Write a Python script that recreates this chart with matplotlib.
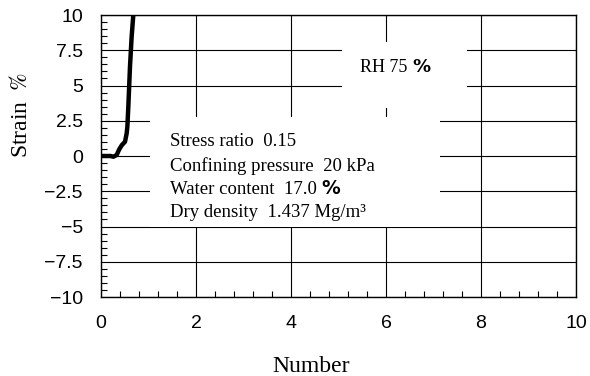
import numpy as np
import matplotlib.pyplot as plt
from matplotlib.patches import Rectangle
from matplotlib.ticker import MultipleLocator

number = [0, 0.1, 0.2, 0.26, 0.33, 0.38, 0.44, 0.505, 0.54, 0.555, 0.575, 0.61, 0.645, 0.68, 0.7]
strain = [0, 0, 0, -0.05, 0.07, 0.45, 0.78, 1.01, 1.6, 2.08, 3.5, 6.33, 8.46, 10.0, 11.0]

x_ticks = [0, 2, 4, 6, 8, 10]
y_ticks = [-10, -7.5, -5, -2.5, 0, 2.5, 5, 7.5, 10]
y_tick_labels = ['\u221210', '\u22127.5', '\u22125', '\u22122.5', '0', '2.5', '5', '7.5', '10']

conditions = [
    ('Stress ratio  0.15', ''),
    ('Confining pressure  20 kPa', ''),
    ('Water content  17.0 ', '%'),
    ('Dry density  1.437 Mg/m\u00b3', ''),
]

plt.rcParams['mathtext.fontset'] = 'stix'

fig = plt.figure(figsize=(5.9, 3.76), dpi=100)
ax = fig.add_axes([0.1712, 0.2101, 0.8051, 0.75])

ax.plot(number, strain, color='black', lw=3.2, zorder=3, solid_capstyle='butt')

ax.set_xlim(0, 10)
ax.set_ylim(-10, 10)
ax.set_xticks(x_ticks)
ax.set_yticks(y_ticks)
ax.set_yticklabels(y_tick_labels)
ax.xaxis.set_minor_locator(MultipleLocator(0.4))
ax.yaxis.set_minor_locator(MultipleLocator(0.5))
ax.tick_params(which='major', direction='in', length=0, pad=13,
               labelsize=14, labelfontfamily='Liberation Sans')
ax.tick_params(which='minor', direction='in', length=4, width=0.8)

ax.set_axisbelow(True)
ax.grid(True, which='major', color='black', lw=0.8)
for s in ax.spines.values():
    s.set_linewidth(1.0)

# white boxes hiding the grid behind the notes
ax.add_patch(Rectangle((1.03, -5.04), 6.11, 7.81, facecolor='white',
                       edgecolor='none', zorder=1))
ax.add_patch(Rectangle((5.07, 3.40), 2.64, 4.69, facecolor='white',
                       edgecolor='none', zorder=1))

t = ax.text(6.0, 6.3, 'RH 75 ', family='Liberation Serif', fontsize=13,
            ha='center', va='center', zorder=4)
ax.annotate('%', xy=(1, 0), xycoords=t, va='bottom', ha='left',
            family='DejaVu Sans', fontweight='bold', fontsize=13, zorder=4)

line_y = [1.06, -0.68, -2.35, -4.0]
for (label, pct), yy in zip(conditions, line_y):
    t = ax.text(1.45, yy, label, family='Liberation Serif', fontsize=13.5,
                ha='left', va='center', zorder=4)
    if pct:
        ax.annotate(pct, xy=(1, 0), xycoords=t, va='bottom', ha='left',
                    family='DejaVu Sans', fontweight='bold', fontsize=13.5, zorder=4)

ax.set_xlabel('Number', family='Liberation Serif', fontsize=17)
ax.xaxis.set_label_coords(0.442, -0.21)
ax.set_ylabel(r'Strain $\;\mathit{\%}$', family='Liberation Serif', fontsize=17)
ax.yaxis.set_label_coords(-0.146, 0.645)

fig.savefig('out.png', dpi=100)
